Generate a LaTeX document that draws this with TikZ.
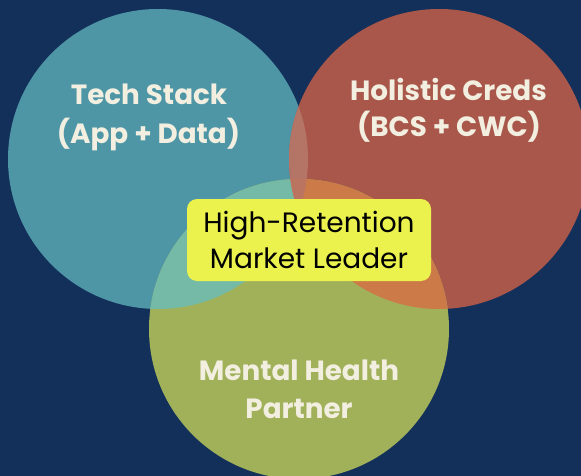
\documentclass[tikz,border=0pt]{standalone}
\usepackage{fontspec}
\setmainfont{Poppins}
\newfontfamily\labelfont{Poppins}
\newfontfamily\corefont{Poppins}
\definecolor{navy}{HTML}{12305A}
\definecolor{teal}{HTML}{4E96A6}
\definecolor{brick}{HTML}{A9574B}
\definecolor{olive}{HTML}{A0B15A}
\definecolor{tealbrick}{HTML}{B47567}
\definecolor{tealolive}{HTML}{75BAA7}
\definecolor{brickolive}{HTML}{CD7A49}
\definecolor{allthree}{HTML}{BA7460}
\definecolor{core}{HTML}{EBF24E}
\definecolor{cream}{HTML}{F2EEE0}
\begin{document}
\begin{tikzpicture}[x=1pt,y=-1pt,
  lbl/.style={text=cream,font=\labelfont\bfseries\fontsize{27.8}{38}\selectfont,inner sep=0pt,anchor=base},
  corebox/.style={fill=core,rounded corners=10pt,minimum width=244pt,minimum height=82pt,
    align=center,inner sep=0pt,font=\corefont\fontsize{28}{36}\selectfont,text=black}]
\useasboundingbox (0,0) rectangle (581,476);
\fill[navy] (0,0) rectangle (581,476);
\begin{scope}
\clip (0,0) rectangle (581,476);
% three sets
\fill[teal]  (158,159) circle[radius=150];
\fill[brick] (439,159) circle[radius=150];
\fill[olive] (299,329) circle[radius=150];
% pairwise overlaps
\begin{scope}
  \clip (158,159) circle[radius=150];
  \fill[tealbrick] (439,159) circle[radius=150];
  \fill[tealolive] (299,329) circle[radius=150];
\end{scope}
\begin{scope}
  \clip (439,159) circle[radius=150];
  \fill[brickolive] (299,329) circle[radius=150];
\end{scope}
% common region
\begin{scope}
  \clip (158,159) circle[radius=150];
  \clip (439,159) circle[radius=150];
  \fill[allthree] (299,329) circle[radius=150];
\end{scope}
\end{scope}
% set labels
\node[lbl] (tech1) at (149,105) {Tech Stack};
\node[lbl] (tech2) at (148.5,143) {(App + Data)};
\node[lbl] (cred1) at (448.5,101) {Holistic Creds};
\node[lbl] (cred2) at (449,137) {(BCS + CWC)};
\node[lbl] (mh1) at (299,380) {Mental Health};
\node[lbl] (mh2) at (299,418) {Partner};
% centre
\node[corebox] (core) at (309,240) {High-Retention\\Market Leader};
\end{tikzpicture}
\end{document}
